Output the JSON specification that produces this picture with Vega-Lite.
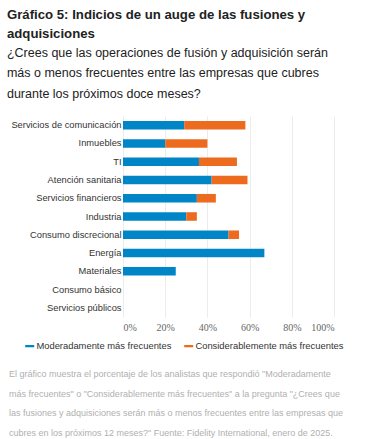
{
  "$schema": "https://vega.github.io/schema/vega-lite/v6.json",
  "padding": {"left": 6, "top": 7, "right": 5, "bottom": 5},
  "background": "white",
  "config": {
    "font": "Liberation Sans",
    "view": {"stroke": null}
  },
  "title": {
    "text": ["Gráfico 5: Indicios de un auge de las fusiones y", "adquisiciones"],
    "subtitle": ["¿Crees que las operaciones de fusión y adquisición serán", "más o menos frecuentes entre las empresas que cubres", "durante los próximos doce meses?"],
    "anchor": "start",
    "frame": "bounds",
    "dx": -2,
    "font": "Liberation Sans",
    "fontSize": 13.2,
    "fontWeight": "bold",
    "color": "#222222",
    "lineHeight": 19.5,
    "subtitleFont": "Liberation Sans",
    "subtitleFontSize": 12.5,
    "subtitleColor": "#222222",
    "subtitleLineHeight": 20.5,
    "subtitlePadding": 5,
    "offset": 15
  },
  "vconcat": [
    {
      "width": 211,
      "height": 201,
      "title": {
        "text": ["El gráfico muestra el porcentaje de los analistas que respondió \"Moderadamente", "más frecuentes\" o \"Considerablemente más frecuentes\" a la pregunta \"¿Crees que", "las fusiones y adquisiciones serán más o menos frecuentes entre las empresas que", "cubres en los próximos 12 meses?\" Fuente: Fidelity International, enero de 2025."],
        "orient": "bottom",
        "anchor": "start",
        "frame": "bounds",
        "dx": -2,
        "fontSize": 9,
        "fontWeight": "normal",
        "color": "#b0b0b0",
        "lineHeight": 19.5,
        "offset": 38
      },
      "data": {
        "values": [
          {"sector": "Servicios de comunicación", "serie": "Moderadamente más frecuentes", "ord": 1, "valor": 29},
          {"sector": "Servicios de comunicación", "serie": "Considerablemente más frecuentes", "ord": 2, "valor": 29},
          {"sector": "Inmuebles", "serie": "Moderadamente más frecuentes", "ord": 1, "valor": 20},
          {"sector": "Inmuebles", "serie": "Considerablemente más frecuentes", "ord": 2, "valor": 20},
          {"sector": "TI", "serie": "Moderadamente más frecuentes", "ord": 1, "valor": 36},
          {"sector": "TI", "serie": "Considerablemente más frecuentes", "ord": 2, "valor": 18},
          {"sector": "Atención sanitaria", "serie": "Moderadamente más frecuentes", "ord": 1, "valor": 42},
          {"sector": "Atención sanitaria", "serie": "Considerablemente más frecuentes", "ord": 2, "valor": 17},
          {"sector": "Servicios financieros", "serie": "Moderadamente más frecuentes", "ord": 1, "valor": 35},
          {"sector": "Servicios financieros", "serie": "Considerablemente más frecuentes", "ord": 2, "valor": 9},
          {"sector": "Industria", "serie": "Moderadamente más frecuentes", "ord": 1, "valor": 30},
          {"sector": "Industria", "serie": "Considerablemente más frecuentes", "ord": 2, "valor": 5},
          {"sector": "Consumo discrecional", "serie": "Moderadamente más frecuentes", "ord": 1, "valor": 50},
          {"sector": "Consumo discrecional", "serie": "Considerablemente más frecuentes", "ord": 2, "valor": 5},
          {"sector": "Energía", "serie": "Moderadamente más frecuentes", "ord": 1, "valor": 67},
          {"sector": "Energía", "serie": "Considerablemente más frecuentes", "ord": 2, "valor": 0},
          {"sector": "Materiales", "serie": "Moderadamente más frecuentes", "ord": 1, "valor": 25},
          {"sector": "Materiales", "serie": "Considerablemente más frecuentes", "ord": 2, "valor": 0},
          {"sector": "Consumo básico", "serie": "Moderadamente más frecuentes", "ord": 1, "valor": 0},
          {"sector": "Consumo básico", "serie": "Considerablemente más frecuentes", "ord": 2, "valor": 0},
          {"sector": "Servicios públicos", "serie": "Moderadamente más frecuentes", "ord": 1, "valor": 0},
          {"sector": "Servicios públicos", "serie": "Considerablemente más frecuentes", "ord": 2, "valor": 0}
        ]
      },
      "mark": {"type": "bar"},
      "encoding": {
        "y": {
          "field": "sector",
          "type": "nominal",
          "sort": null,
          "scale": {"paddingInner": 0.53, "paddingOuter": 0.27},
          "axis": {
            "title": null,
            "ticks": false,
            "domain": false,
            "labelPadding": 2,
            "labelFontSize": 9.3,
            "labelColor": "#333333",
            "labelFont": "Liberation Sans"
          }
        },
        "x": {
          "field": "valor",
          "type": "quantitative",
          "stack": "zero",
          "scale": {"domain": [0, 100], "nice": false},
          "axis": {
            "title": null,
            "values": [0, 20, 40, 60, 80, 100],
            "labelExpr": "datum.value + '%'",
            "ticks": false,
            "domain": false,
            "grid": true,
            "gridColor": "#ececec",
            "gridWidth": 1,
            "labelPadding": 5,
            "labelFontSize": 10,
            "labelColor": "#666666",
            "labelFont": "Liberation Sans Narrow"
          }
        },
        "color": {
          "field": "serie",
          "type": "nominal",
          "scale": {
            "domain": ["Moderadamente más frecuentes", "Considerablemente más frecuentes"],
            "range": ["#0086c7", "#ec6b1f"]
          },
          "legend": {
            "title": null,
            "orient": "none",
            "direction": "horizontal",
            "legendX": -98,
            "legendY": 225,
            "symbolType": "M-1,-0.25H1V0.25H-1Z",
            "symbolSize": 81,
            "symbolStrokeWidth": 0,
            "labelFontSize": 9.4,
            "labelColor": "#333333",
            "labelOffset": 2,
            "columnPadding": 12
          }
        },
        "order": {"field": "ord", "type": "quantitative"}
      }
    }
  ]
}
